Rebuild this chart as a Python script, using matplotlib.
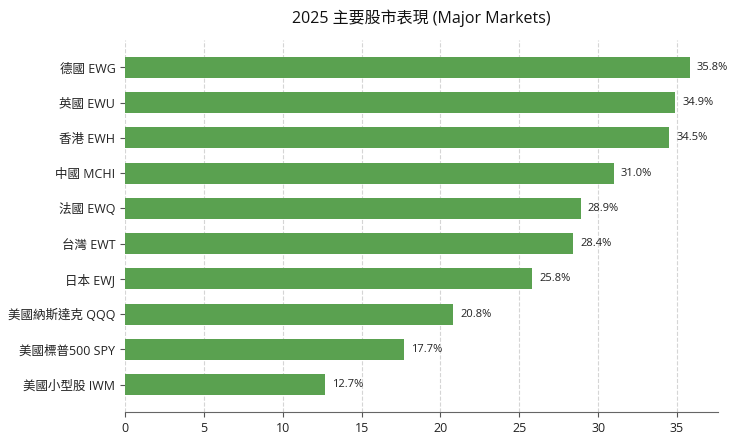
import matplotlib
matplotlib.use("Agg")
import matplotlib.pyplot as plt

plt.rcParams['font.family'] = ['Open Sans', 'Noto Sans CJK TC', 'DejaVu Sans']

categories = ["德國 EWG", "英國 EWU", "香港 EWH", "中國 MCHI", "法國 EWQ",
              "台灣 EWT", "日本 EWJ", "美國納斯達克 QQQ", "美國標普500 SPY", "美國小型股 IWM"]
values = [35.8, 34.9, 34.5, 31.0, 28.9, 28.4, 25.8, 20.8, 17.7, 12.7]
title = "2025 主要股市表現 (Major Markets)"

fig, ax = plt.subplots(figsize=(7.4, 4.44), dpi=100)
fig.subplots_adjust(left=0.169, right=0.97, top=0.91, bottom=0.072)

y = list(range(len(categories)))[::-1]
ax.barh(y, values, height=0.6, color='#5aa150', zorder=3)
for yi, v in zip(y, values):
    ax.text(v + 0.45, yi, f"{v:.1f}%", va='center', ha='left', fontsize=8, color='#222222')

ax.set_yticks(y)
ax.set_yticklabels(categories, fontsize=9, color='#222222')
ax.set_xlim(0, max(values) * 1.05)
ax.set_xticks([0, 5, 10, 15, 20, 25, 30, 35])
ax.tick_params(axis='x', labelsize=9, colors='#222222')
ax.tick_params(axis='x', color='#555555')
ax.tick_params(axis='y', color='#555555', length=3.5)
ax.grid(axis='x', linestyle='--', color='#d5d5d5', linewidth=0.8, zorder=0)
ax.set_axisbelow(True)
for s in ['top', 'right', 'left']:
    ax.spines[s].set_visible(False)
ax.spines['bottom'].set_color('#666666')
ax.set_title(title, fontsize=11.5, pad=12, color='#111111')

fig.savefig("out.png", dpi=100)
